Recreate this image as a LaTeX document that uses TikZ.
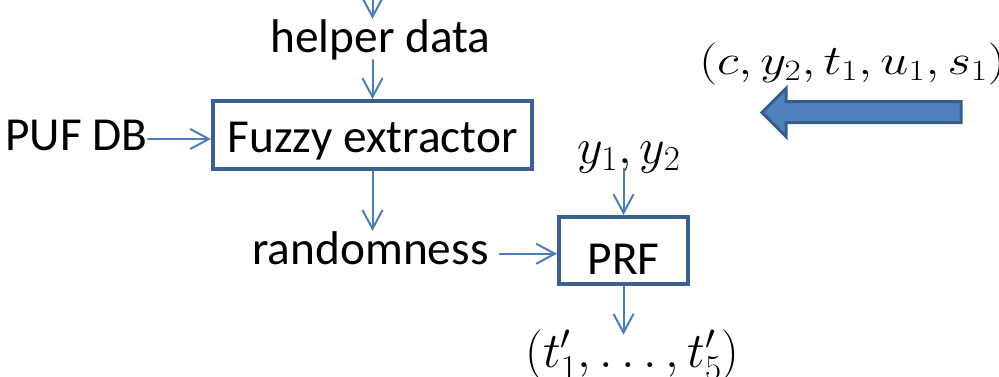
\RequirePackage{fix-cm}
\documentclass[tikz,border=0pt]{standalone}
\usepackage[no-math]{fontspec}
\setmainfont{Carlito}
\usetikzlibrary{arrows.meta}
\definecolor{linkblue}{HTML}{4A7EBB}
\definecolor{boxblue}{HTML}{3B5F91}
\definecolor{fillblue}{HTML}{4F81BD}
\definecolor{edgeblue}{HTML}{385D8A}
\tikzset{
  lbl/.style={inner sep=0pt, font=\fontsize{35.5}{42}\selectfont, anchor=base},
  mathlbl/.style={inner sep=0pt, font=\fontsize{37.5}{44}\selectfont, anchor=base},
  block/.style={draw=boxblue, line width=3pt, inner sep=0pt,
    font=\fontsize{35.5}{42}\selectfont, text depth=0pt},
  flow/.style={draw=linkblue, line width=1.5pt, line cap=round,
    -{Straight Barb[length=14pt,width=15pt]}},
  bigarrow/.style={draw=edgeblue, fill=fillblue, line width=2.25pt, line join=miter}
}
\begin{document}
\begin{tikzpicture}[x=0.75pt,y=-0.75pt]
\useasboundingbox (0,0) rectangle (999,376);

% labels and blocks
\coordinate (src) at (372.5,-2);
\node[lbl] (helper) at (380.5,52) {helper data};
\node[block, minimum width=239.25pt, minimum height=51pt, text height=25.5pt]
  (fe) at (372.5,135) {Fuzzy extractor};
\node[lbl] (puf) at (76.5,150) {PUF DB};
\node[lbl] (rand) at (370.5,264) {randomness};
\node[block, minimum width=96.75pt, minimum height=50.25pt, text height=35.25pt]
  (prf) at (623.5,250.5) {PRF};
\node[mathlbl] (ys) at (629,163) {$y_1,y_2$};
\node[mathlbl] (tout) at (632.5,367.5) {$(t'_1,\ldots,t'_5)$};
\node[mathlbl, font=\fontsize{31.5}{37}\selectfont, anchor=base west] (msg) at (699,74.5)
  {\scalebox{1.2}[1]{$(c,y_2,t_1,u_1,s_1)$}};

% connectors
\draw[flow] (src) -- (src |- helper.north);
\draw[flow] (fe.north |- helper.south) -- (fe.north);
\draw[flow] ([yshift=-3pt]puf.east) -- ([yshift=-3pt]puf.east -| fe.west);
\draw[flow] (fe.south) -- (fe.south |- rand.north);
\draw[flow] ([xshift=8pt,yshift=-4.5pt]rand.east) -- ([yshift=-4.5pt]rand.east -| prf.west);
\draw[flow] ([yshift=3.5pt]ys.south -| prf.north) -- (prf.north);
\draw[flow] (prf.south) -- ([yshift=-3.75pt]prf.south |- tout.north);

% incoming message arrow
\draw[bigarrow] (961,101.5) -- (786,101.5) -- (786,88.5) -- (762,112.5)
  -- (786,136.5) -- (786,122.5) -- (961,122.5) -- cycle;
\end{tikzpicture}
\end{document}
